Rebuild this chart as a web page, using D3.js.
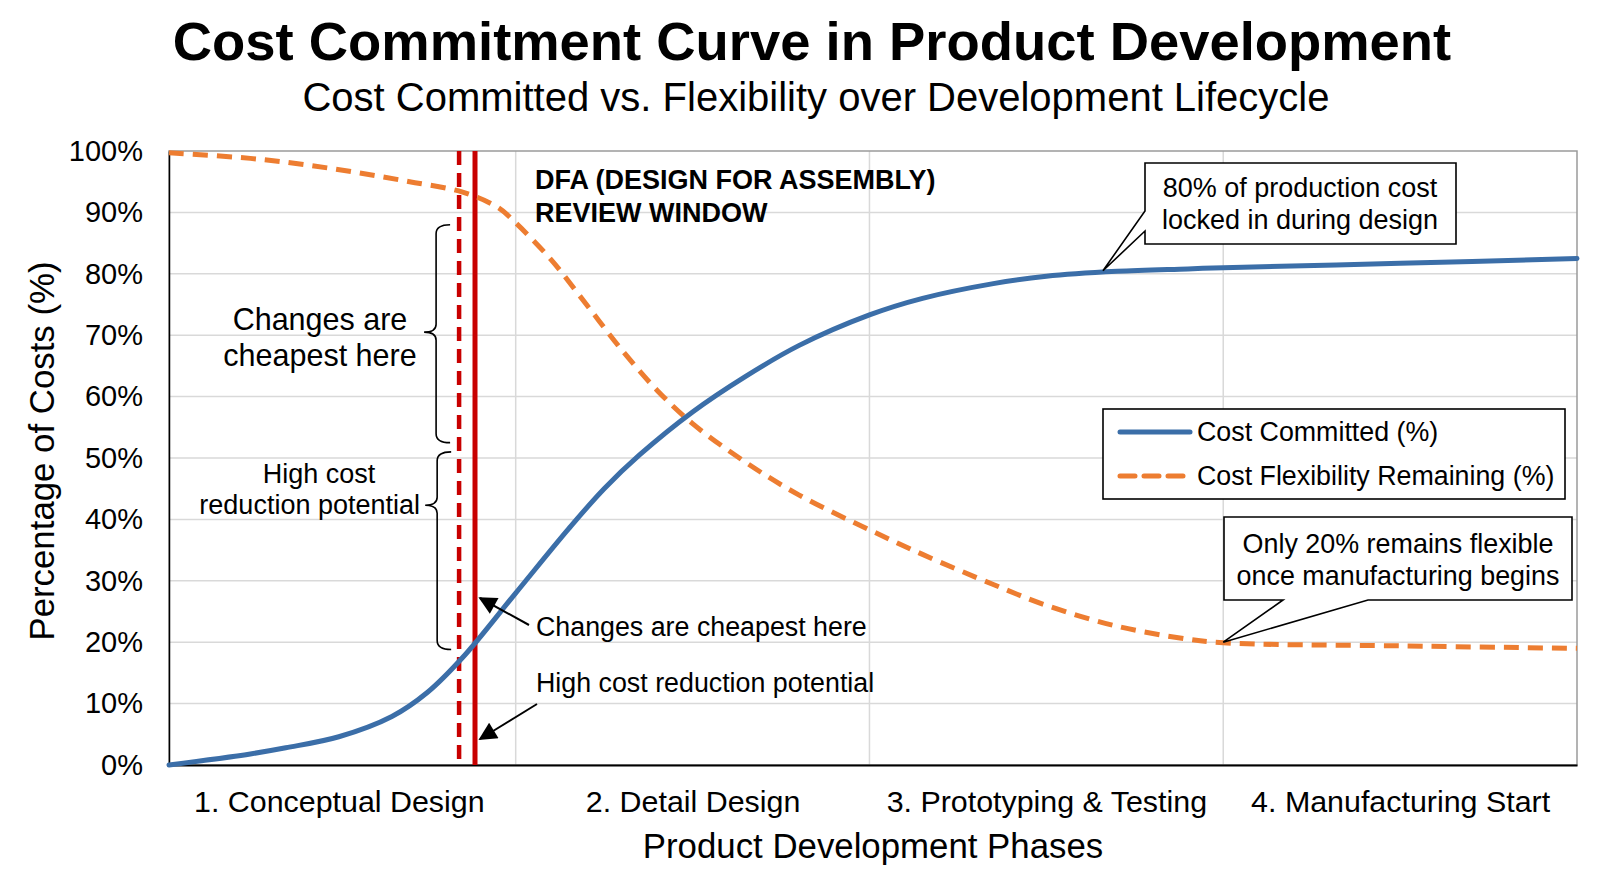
<!DOCTYPE html>
<html>
<head>
<meta charset="utf-8">
<script src="https://cdn.jsdelivr.net/npm/d3@7"></script>
<style>
  body { margin: 0; background: #fff; }
  text { font-family: "Liberation Sans", Arial, sans-serif; fill: #000; }
</style>
</head>
<body>
<div id="chart"></div>
<script>
// phases along the x axis
var phases = ["1. Conceptual Design", "2. Detail Design", "3. Prototyping & Testing", "4. Manufacturing Start"];
var yTicks = [0, 10, 20, 30, 40, 50, 60, 70, 80, 90, 100];

// (x = phase position 0..4, value in %)
var committedX = [0.02, 0.25, 0.35, 0.5, 0.65, 0.75, 0.85, 1.0, 1.15, 1.25, 1.35, 1.5, 1.65, 1.8, 2.0, 2.15, 2.35, 2.5, 2.7, 2.9, 3.0, 3.5, 4.0];
var committedY = [0, 1.8, 2.8, 4.6, 7.9, 11.8, 17.5, 28.0, 38.5, 45.0, 50.5, 57.5, 63.3, 68.3, 73.3, 76.0, 78.4, 79.6, 80.4, 80.8, 81.0, 81.7, 82.5];

var flexX = [0.02, 0.25, 0.4, 0.55, 0.7, 0.85, 0.95, 1.0, 1.1, 1.2, 1.3, 1.4, 1.5, 1.65, 1.8, 2.0, 2.15, 2.35, 2.5, 2.7, 2.9, 3.0, 3.5, 4.0];
var flexY = [99.7, 98.8, 97.8, 96.5, 95.0, 93.3, 90.8, 88.3, 82.3, 75.0, 67.6, 61.0, 55.6, 49.3, 44.0, 38.3, 34.3, 29.4, 26.0, 22.6, 20.5, 19.9, 19.4, 19.0];

// DFA review window markers
var dfaDashedX = 0.84;
var dfaSolidX = 0.885;

var W = 1600, H = 873;
var margin = {top: 151, right: 23, bottom: 108, left: 169};

var svg = d3.select("#chart").append("svg")
  .attr("width", W)
  .attr("height", H);

var x = d3.scaleLinear().domain([0.02, 4]).range([margin.left, W - margin.right]);
var y = d3.scaleLinear().domain([0, 100]).range([H - margin.bottom, margin.top]);

var blue = "#3b6ea8", orange = "#ed7d31", red = "#c80000";

// titles
svg.append("text")
  .attr("x", 812).attr("y", 41)
  .attr("text-anchor", "middle").attr("dominant-baseline", "central")
  .style("font-size", "54.4px").style("font-weight", "bold")
  .text("Cost Commitment Curve in Product Development");
svg.append("text")
  .attr("x", 816).attr("y", 97)
  .attr("text-anchor", "middle").attr("dominant-baseline", "central")
  .style("font-size", "40px")
  .text("Cost Committed vs. Flexibility over Development Lifecycle");

// gridlines
svg.append("g").selectAll("line")
  .data(yTicks.slice(1, -1))
  .enter().append("line")
  .attr("x1", x.range()[0]).attr("x2", x.range()[1])
  .attr("y1", d => y(d)).attr("y2", d => y(d))
  .attr("stroke", "#d9d9d9").attr("stroke-width", 1.5);
svg.append("g").selectAll("line")
  .data([1, 2, 3])
  .enter().append("line")
  .attr("x1", d => x(d)).attr("x2", d => x(d))
  .attr("y1", y(0)).attr("y2", y(100))
  .attr("stroke", "#d9d9d9").attr("stroke-width", 1.5);

// frame
svg.append("rect")
  .attr("x", x.range()[0]).attr("y", y(100))
  .attr("width", x.range()[1] - x.range()[0]).attr("height", y(0) - y(100))
  .attr("fill", "none").attr("stroke", "#9a9a9a").attr("stroke-width", 1.5);

// axes
var yAxis = svg.append("g")
  .attr("transform", "translate(" + margin.left + ",0)")
  .call(d3.axisLeft(y).tickValues(yTicks).tickFormat(d => d + "%").tickSize(0).tickPadding(26));
yAxis.select(".domain").attr("stroke", "#000").attr("stroke-width", 1.5);
yAxis.selectAll("text").style("font-size", "29px").attr("fill", "#000");

var xAxis = svg.append("g")
  .attr("transform", "translate(0," + y(0) + ")")
  .call(d3.axisBottom(x).tickValues([0.5, 1.5, 2.5, 3.5]).tickFormat((d, i) => phases[i]).tickSize(0).tickPadding(25));
xAxis.select(".domain").attr("stroke", "#000").attr("stroke-width", 2);
xAxis.selectAll("text").style("font-size", "30.4px").attr("fill", "#000");

// axis titles
svg.append("text")
  .attr("transform", "translate(41," + 451 + ") rotate(-90)")
  .attr("text-anchor", "middle").attr("dominant-baseline", "central")
  .style("font-size", "34.8px")
  .text("Percentage of Costs (%)");
svg.append("text")
  .attr("x", (x.range()[0] + x.range()[1]) / 2).attr("y", 845)
  .attr("text-anchor", "middle").attr("dominant-baseline", "central")
  .style("font-size", "34.8px")
  .text("Product Development Phases");

// DFA window lines
svg.append("line")
  .attr("x1", x(dfaDashedX)).attr("x2", x(dfaDashedX))
  .attr("y1", y(100)).attr("y2", y(0))
  .attr("stroke", red).attr("stroke-width", 4.5).attr("stroke-dasharray", "14,8");
svg.append("line")
  .attr("x1", x(dfaSolidX)).attr("x2", x(dfaSolidX))
  .attr("y1", y(100)).attr("y2", y(0))
  .attr("stroke", red).attr("stroke-width", 5);

// curves
var line = d3.line()
  .x(d => x(d[0]))
  .y(d => y(d[1]))
  .curve(d3.curveCatmullRom.alpha(0.5));

svg.append("path")
  .datum(flexX.map((v, i) => [v, flexY[i]]))
  .attr("d", line)
  .attr("fill", "none").attr("stroke", orange).attr("stroke-width", 5)
  .attr("stroke-dasharray", "15,9");

svg.append("path")
  .datum(committedX.map((v, i) => [v, committedY[i]]))
  .attr("d", line)
  .attr("fill", "none").attr("stroke", blue).attr("stroke-width", 5)
  .attr("stroke-linecap", "round");

// DFA label
var dfa = svg.append("text")
  .attr("x", 535).attr("y", 180)
  .style("font-size", "27px").style("font-weight", "bold");
dfa.append("tspan").attr("x", 535).attr("dy", "0.35em").text("DFA (DESIGN FOR ASSEMBLY)");
dfa.append("tspan").attr("x", 535).attr("dy", "1.2em").text("REVIEW WINDOW");

// braces
function brace(top, bottom, tip, bx) {
  var xv = x(bx), xe = xv + 14, xt = xv - 12;
  var t = y(top), b = y(bottom), m = y(tip);
  return "M" + xe + "," + t +
    " Q" + xv + "," + t + " " + xv + "," + (t + 9) +
    " V" + (m - 8) +
    " Q" + xv + "," + m + " " + xt + "," + m +
    " Q" + xv + "," + m + " " + xv + "," + (m + 8) +
    " V" + (b - 9) +
    " Q" + xv + "," + b + " " + xe + "," + b;
}
svg.append("path").attr("d", brace(88, 52.5, 70.5, 0.775))
  .attr("fill", "none").attr("stroke", "#000").attr("stroke-width", 1.6);
svg.append("path").attr("d", brace(51, 18.8, 42.3, 0.778))
  .attr("fill", "none").attr("stroke", "#000").attr("stroke-width", 1.6);

function centeredLines(cx, cy, lines, size, gap, anchor) {
  var t = svg.append("text")
    .attr("text-anchor", anchor || "middle")
    .style("font-size", size + "px");
  lines.forEach(function(s, i) {
    t.append("tspan").attr("x", cx).attr("y", cy + i * gap)
      .attr("dominant-baseline", "central").text(s);
  });
  return t;
}
centeredLines(320, 319, ["Changes are", "cheapest here"], 30.5, 36);
centeredLines(319, 474, ["High cost"], 27, 0);
centeredLines(420, 505, ["reduction potential"], 27, 0, "end");

// arrows
svg.append("defs").append("marker")
  .attr("id", "arrow")
  .attr("viewBox", "0 0 10 10")
  .attr("refX", 9).attr("refY", 5)
  .attr("markerWidth", 22).attr("markerHeight", 18)
  .attr("markerUnits", "userSpaceOnUse")
  .attr("orient", "auto")
  .append("path").attr("d", "M0,0 L10,5 L0,10 Z").attr("fill", "#000");

svg.append("line")
  .attr("x1", 529).attr("y1", 625).attr("x2", x(dfaSolidX) + 5).attr("y2", 598)
  .attr("stroke", "#000").attr("stroke-width", 2).attr("marker-end", "url(#arrow)");
svg.append("line")
  .attr("x1", 537).attr("y1", 704).attr("x2", x(dfaSolidX) + 5).attr("y2", 739)
  .attr("stroke", "#000").attr("stroke-width", 2).attr("marker-end", "url(#arrow)");

centeredLines(536, 627, ["Changes are cheapest here"], 26.8, 0, "start");
centeredLines(536, 683, ["High cost reduction potential"], 26.8, 0, "start");

// callouts
var tip1 = [x(2.66), y(80.5)];
svg.append("path")
  .attr("d", "M1145,163 H1456 V244 H1145 V231 L" + tip1[0] + "," + tip1[1] + " L1145,211 Z")
  .attr("fill", "#fff").attr("stroke", "#000").attr("stroke-width", 1.6);
centeredLines(1300, 188, ["80% of production cost", "locked in during design"], 27, 32);

var tip2 = [x(3.0), y(20)];
svg.append("path")
  .attr("d", "M1224,517 H1572 V600 H1368 L" + tip2[0] + "," + tip2[1] + " L1283,600 H1224 Z")
  .attr("fill", "#fff").attr("stroke", "#000").attr("stroke-width", 1.6);
centeredLines(1398, 544, ["Only 20% remains flexible", "once manufacturing begins"], 26.9, 32);

// legend
var legend = svg.append("g");
legend.append("rect")
  .attr("x", 1103).attr("y", 409).attr("width", 462).attr("height", 90)
  .attr("fill", "#fff").attr("stroke", "#000").attr("stroke-width", 1.6);
var legendItems = [
  {label: "Cost Committed (%)", color: blue, dash: null},
  {label: "Cost Flexibility Remaining (%)", color: orange, dash: "15,9"}
];
legendItems.forEach(function(d, i) {
  var ly = 432 + i * 44;
  legend.append("line")
    .attr("x1", 1120).attr("x2", 1190).attr("y1", ly).attr("y2", ly)
    .attr("stroke", d.color).attr("stroke-width", 5)
    .attr("stroke-linecap", "round")
    .attr("stroke-dasharray", d.dash);
  legend.append("text")
    .attr("x", 1197).attr("y", ly)
    .attr("dominant-baseline", "central")
    .style("font-size", "26.8px")
    .text(d.label);
});
</script>
</body>
</html>
